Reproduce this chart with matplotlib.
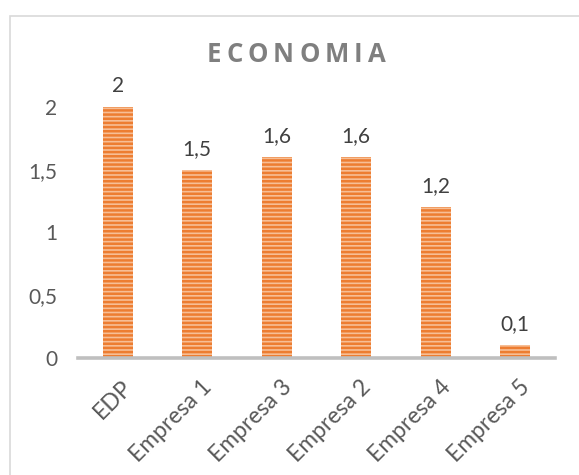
import numpy as np
import matplotlib.pyplot as plt
from matplotlib.patches import Rectangle
from matplotlib.transforms import ScaledTranslation

# data
categories = ["EDP", "Empresa 1", "Empresa 3", "Empresa 2", "Empresa 4", "Empresa 5"]
values = [2.0, 1.5, 1.6, 1.6, 1.2, 0.1]
yticks = [0, 0.5, 1, 1.5, 2]
title = "ECONOMIA"

W, H = 579, 475
plt.rcParams["font.family"] = ["Lato", "DejaVu Sans"]
plt.rcParams["hatch.linewidth"] = 1.8

fig = plt.figure(figsize=(W / 100, H / 100), dpi=100)

# chart frame
fig.patches.append(Rectangle((10 / W, -0.1), 1.2, 1 - 16 / H + 0.1,
                             transform=fig.transFigure, fill=False,
                             edgecolor="#D9D9D9", lw=1.2))

ax = fig.add_axes([78 / W, 1 - 358 / H, (555 - 78) / W, (358 - 107) / H])
x = np.arange(len(categories))
ax.bar(x, values, width=0.38, color="#F7BE95", edgecolor="#ED7D31",
       linewidth=0, hatch="----")

ax.set_xlim(-0.5, len(categories) - 0.5)
ax.set_ylim(0, 2)
for s in ["top", "right", "left"]:
    ax.spines[s].set_visible(False)
ax.spines["bottom"].set_color("#BFBFBF")
ax.spines["bottom"].set_linewidth(2.6)

ax.set_yticks(yticks)
ax.set_yticklabels([f"{v:g}".replace(".", ",") for v in yticks])
ax.tick_params(axis="y", length=0, pad=15, labelsize=15, labelcolor="#595959")
ax.set_xticks(x)
ax.set_xticklabels(categories, rotation=45, ha="right", va="top",
                   rotation_mode="anchor")
ax.tick_params(axis="x", length=0, pad=13, labelsize=16.5, labelcolor="#595959")
shift = ScaledTranslation(0.04, 0, fig.dpi_scale_trans)
for lab in ax.get_xticklabels():
    lab.set_transform(lab.get_transform() + shift)

for xi, v in zip(x, values):
    ax.annotate(f"{v:g}".replace(".", ","), (xi, v), xytext=(0, 8),
                textcoords="offset points", ha="center", va="bottom",
                fontsize=15, color="#404040", annotation_clip=False)

# spaced-out title, one letter at a time
fig.canvas.draw()
renderer = fig.canvas.get_renderer()
gap = 5
letters = []
for ch in title:
    t = fig.text(0, 0, ch, fontsize=18.5, fontweight="bold", color="#7F7F7F",
                 va="center", ha="left", family=["Open Sans", "DejaVu Sans"])
    letters.append((t, t.get_window_extent(renderer).width))
total = sum(w for _, w in letters) + gap * (len(letters) - 1)
cx, cy = 296, 55
pos = cx - total / 2
for t, w in letters:
    t.set_position((pos / W, 1 - cy / H))
    pos += w + gap

fig.savefig("out.png", dpi=100)
